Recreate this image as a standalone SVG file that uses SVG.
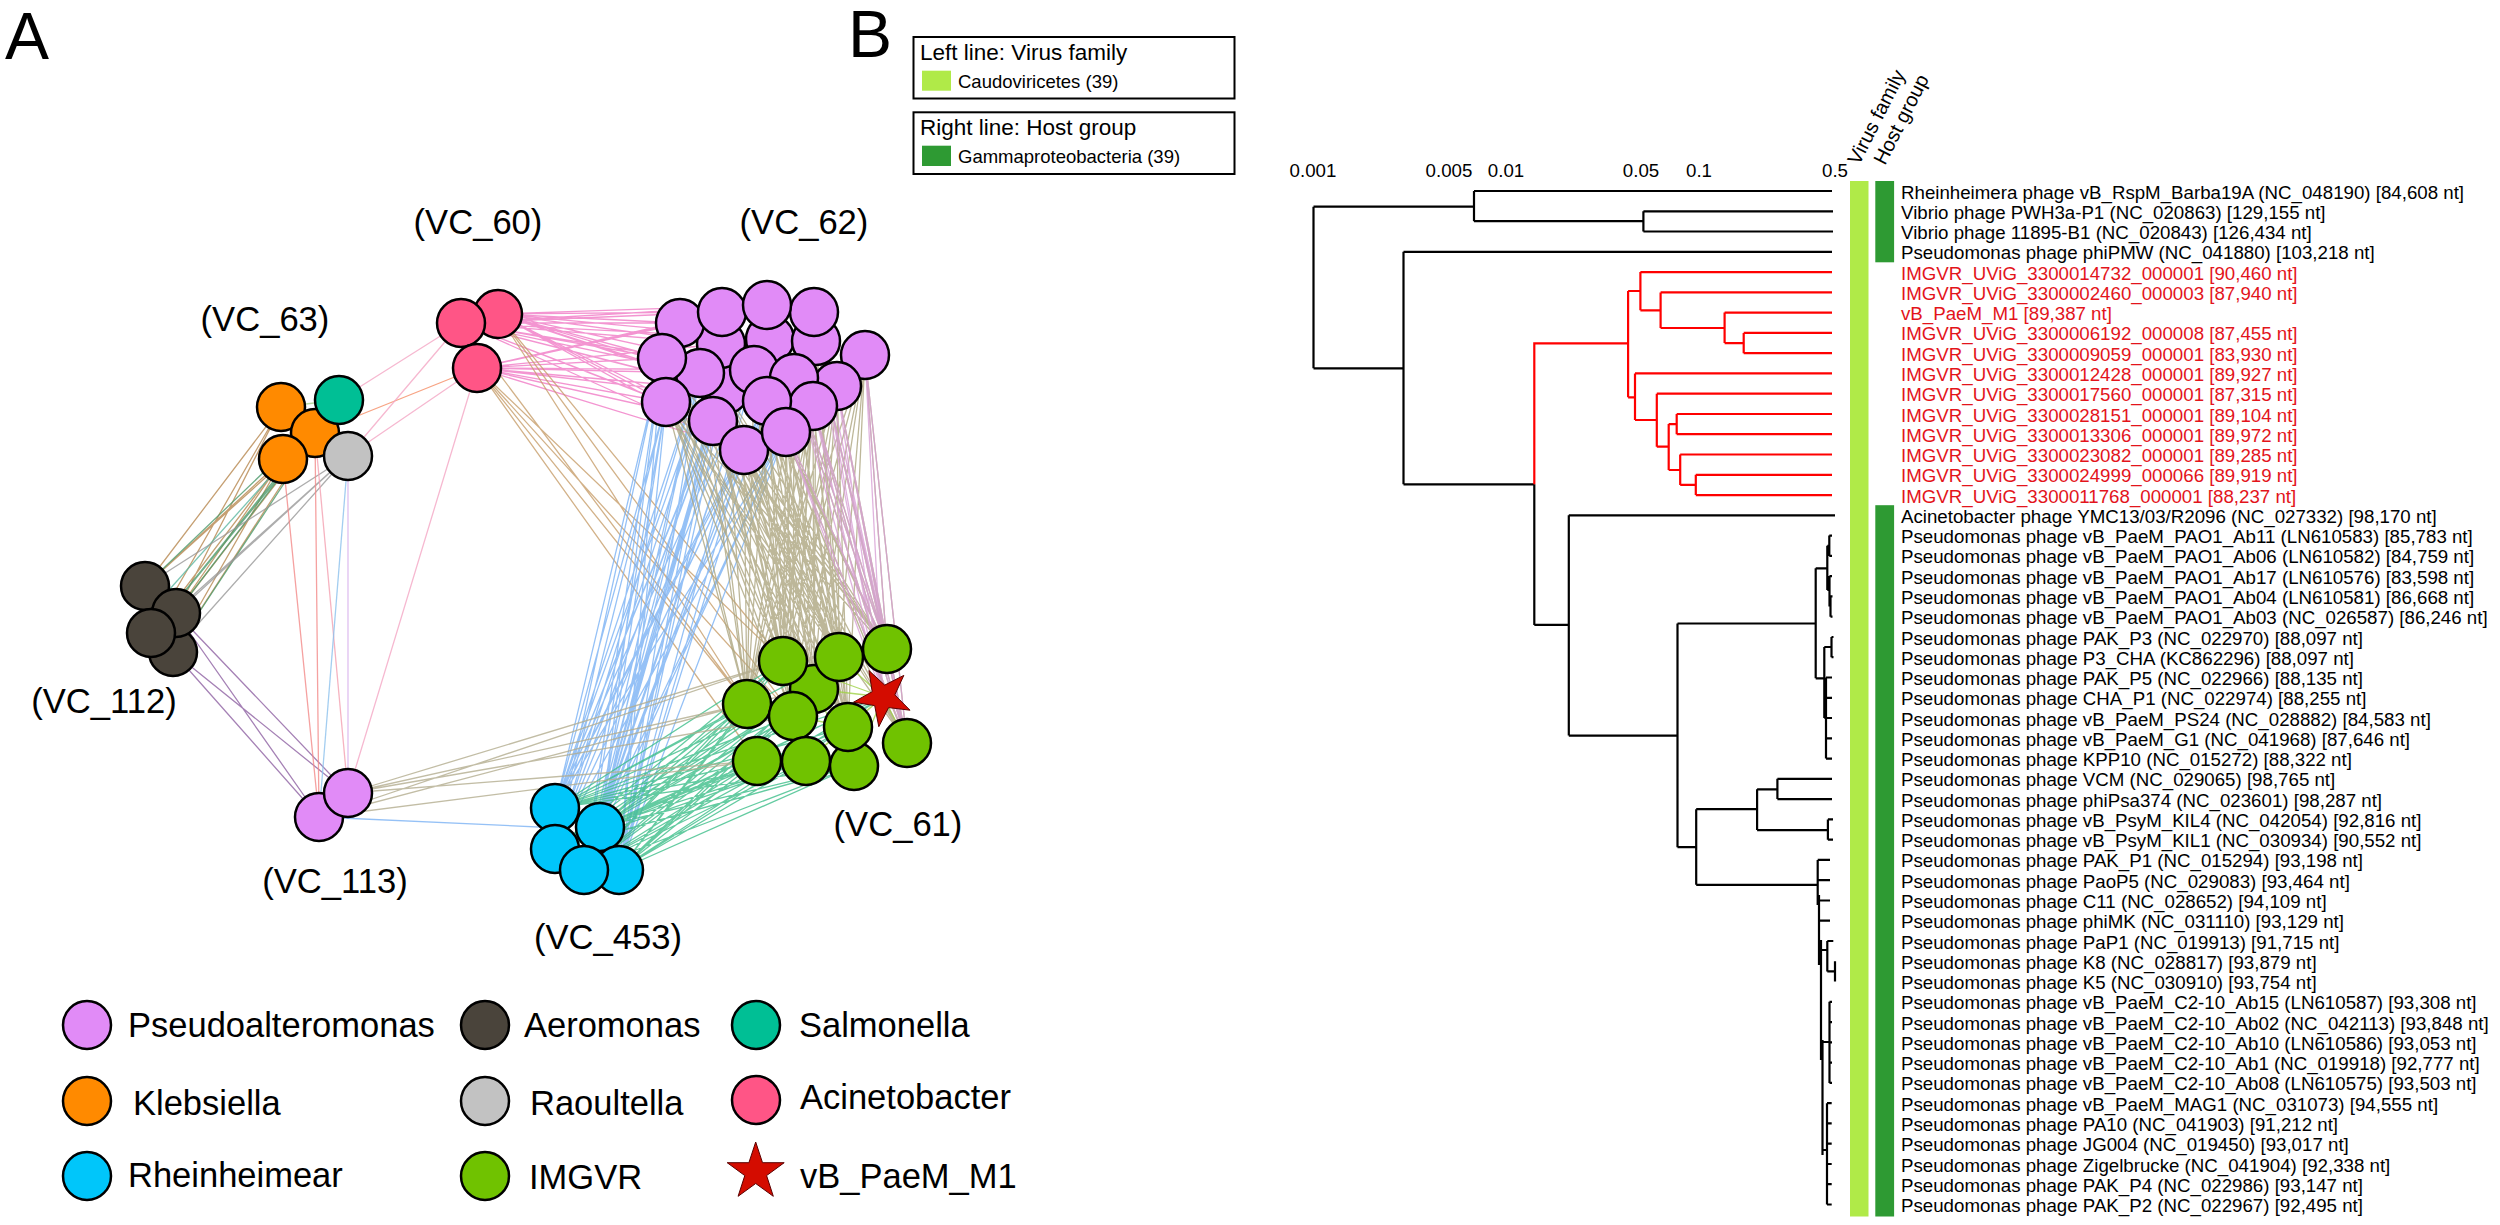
<svg xmlns="http://www.w3.org/2000/svg" width="2500" height="1225" viewBox="0 0 2500 1225">
<style>
text{font-family:"Liberation Sans",Arial,Helvetica,sans-serif;fill:#000}
.big{font-size:66px}
.vc{font-size:34.6px;text-anchor:middle}
.lg{font-size:34.5px}
.tl{font-size:18.7px}
.red{fill:#E3141B}
.ax{font-size:18.7px;text-anchor:middle}
.bx{fill:#fff;stroke:#000;stroke-width:2}
.n{stroke:#000;stroke-width:2.5}
.pv{fill:#E18BF7}.ar{fill:#4A443B}.sa{fill:#00BF95}.kl{fill:#FF8A00}.ra{fill:#C2C2C2}.ac{fill:#FF5586}.rh{fill:#00C6FA}.im{fill:#70C200}
.st{fill:#D40C00;stroke:#5A0000;stroke-width:1}
.e{fill:none;stroke-width:1.3;stroke-opacity:0.8}
.tb{fill:none;stroke:#000;stroke-width:2.2}
.tr{fill:none;stroke:#FF0000;stroke-width:2.2}
</style>

<!-- Panel labels -->
<text class="big" x="5" y="59">A</text>
<text class="big" x="848" y="57">B</text>

<!-- ===== Panel A: network connectors ===== -->
<g id="connectors">
<!-- VC_60 - VC_62 pink -->
<path class="e" stroke="#F07BC6" d="M461 323L680 323M461 323L722 312M461 323L767 305M461 323L721 344M461 323L770 339M461 323L662 358M461 323L700 373M461 323L725 390M461 323L754 370M461 323L666 402M461 323L713 421M461 323L767 401M461 323L744 450M498 314L680 323M498 314L722 312M498 314L767 305M498 314L721 344M498 314L770 339M498 314L662 358M498 314L700 373M498 314L725 390M498 314L754 370M498 314L666 402M498 314L713 421M498 314L767 401M498 314L744 450M477 368L680 323M477 368L722 312M477 368L767 305M477 368L721 344M477 368L770 339M477 368L662 358M477 368L700 373M477 368L725 390M477 368L754 370M477 368L666 402M477 368L713 421M477 368L767 401M477 368L744 450"/>
<!-- VC_60 - VC_61 tan -->
<path class="e" stroke="#C79D6A" d="M477 368L747 704M477 368L783 661M477 368L757 761M498 314L747 704M498 314L783 661M498 314L793 716M461 323L747 704M477 368L793 716"/>
<!-- VC_62 - VC_453 blue -->
<path class="e" stroke="#7AB2F4" d="M666 402L555 808M666 402L600 827M666 402L555 849M666 402L619 870M666 402L584 870M713 421L555 808M713 421L600 827M713 421L555 849M713 421L619 870M713 421L584 870M744 450L555 808M744 450L600 827M744 450L555 849M744 450L619 870M744 450L584 870M662 358L555 808M662 358L600 827M662 358L555 849M662 358L619 870M662 358L584 870M700 373L555 808M700 373L600 827M700 373L555 849M700 373L619 870M700 373L584 870M786 432L555 808M786 432L600 827M786 432L555 849M786 432L619 870M786 432L584 870M767 401L555 808M767 401L600 827M767 401L555 849M767 401L619 870M767 401L584 870M725 390L555 808M725 390L600 827M725 390L555 849M725 390L619 870M725 390L584 870M754 370L555 808M754 370L600 827M754 370L555 849M754 370L619 870M754 370L584 870M721 344L555 808M721 344L600 827M721 344L555 849M721 344L619 870M721 344L584 870"/>
<!-- VC_62 - VC_61 khaki -->
<path class="e" stroke="#ADA57F" d="M666 402L783 661M666 402L839 657M666 402L887 649M666 402L814 689M666 402L747 704M666 402L793 716M666 402L848 727M666 402L907 743M713 421L783 661M713 421L839 657M713 421L887 649M713 421L814 689M713 421L747 704M713 421L793 716M713 421L848 727M713 421L907 743M744 450L783 661M744 450L839 657M744 450L887 649M744 450L814 689M744 450L747 704M744 450L793 716M744 450L848 727M744 450L907 743M786 432L783 661M786 432L839 657M786 432L887 649M786 432L814 689M786 432L747 704M786 432L793 716M786 432L848 727M786 432L907 743M813 406L783 661M813 406L839 657M813 406L887 649M813 406L814 689M813 406L747 704M813 406L793 716M813 406L848 727M813 406L907 743M837 386L783 661M837 386L839 657M837 386L887 649M837 386L814 689M837 386L747 704M837 386L793 716M837 386L848 727M837 386L907 743M865 355L783 661M865 355L839 657M865 355L887 649M865 355L814 689M865 355L747 704M865 355L793 716M865 355L848 727M865 355L907 743M767 401L783 661M767 401L839 657M767 401L887 649M767 401L814 689M767 401L747 704M767 401L793 716M767 401L848 727M767 401L907 743M794 378L783 661M794 378L839 657M794 378L887 649M794 378L814 689M794 378L747 704M794 378L793 716M794 378L848 727M794 378L907 743M700 373L783 661M700 373L839 657M700 373L887 649M700 373L814 689M700 373L747 704M700 373L793 716M700 373L848 727M700 373L907 743M662 358L783 661M662 358L839 657M662 358L887 649M662 358L814 689M662 358L747 704M662 358L793 716M662 358L848 727M662 358L907 743M754 370L783 661M754 370L839 657M754 370L887 649M754 370L814 689M754 370L747 704M754 370L793 716M754 370L848 727M754 370L907 743M816 341L783 661M816 341L839 657M816 341L887 649M816 341L814 689M816 341L747 704M816 341L793 716M816 341L848 727M816 341L907 743M725 390L783 661M725 390L839 657M725 390L887 649M725 390L814 689M725 390L747 704M725 390L793 716M725 390L848 727M725 390L907 743"/>
<!-- VC_62 - VC_61 violet -->
<path class="e" stroke="#D8A0D6" d="M865 355L883 697M865 355L887 649M865 355L907 743M837 386L883 697M837 386L887 649M837 386L907 743M813 406L883 697M813 406L887 649M813 406L907 743M794 378L883 697M794 378L887 649M794 378L907 743M816 341L883 697M816 341L887 649M816 341L907 743M786 432L883 697M786 432L887 649M786 432L907 743M814 312L883 697M814 312L887 649M814 312L907 743"/>
<!-- VC_453 - VC_61 green -->
<path class="e" stroke="#3DBE8A" d="M555 808L783 661M555 808L839 657M555 808L814 689M555 808L747 704M555 808L793 716M555 808L848 727M555 808L757 761M555 808L806 761M555 808L854 766M555 808L883 697M600 827L783 661M600 827L839 657M600 827L814 689M600 827L747 704M600 827L793 716M600 827L848 727M600 827L757 761M600 827L806 761M600 827L854 766M600 827L883 697M555 849L783 661M555 849L839 657M555 849L814 689M555 849L747 704M555 849L793 716M555 849L848 727M555 849L757 761M555 849L806 761M555 849L854 766M555 849L883 697M619 870L783 661M619 870L839 657M619 870L814 689M619 870L747 704M619 870L793 716M619 870L848 727M619 870L757 761M619 870L806 761M619 870L854 766M619 870L883 697M584 870L783 661M584 870L839 657M584 870L814 689M584 870L747 704M584 870L793 716M584 870L848 727M584 870L757 761M584 870L806 761M584 870L854 766M584 870L883 697"/>
<!-- VC_113 - VC_61 khaki -->
<path class="e" stroke="#B3AC8E" d="M348 793L747 704M348 793L783 661M348 793L757 761M348 793L793 716M348 793L814 689M319 817L747 704M319 817L783 661M319 817L757 761"/>
<!-- VC_113 - VC_453 blue -->
<path class="e" stroke="#7AB2F4" d="M319 817L560 828"/>
<!-- VC_112 - VC_113 purple -->
<path class="e" stroke="#8E62A2" d="M176 613L348 793M173 652L348 793M173 652L319 817M176 613L319 817"/>
<!-- VC_63 - VC_112 -->
<path class="e" stroke="#B6874F" stroke-width="1.6" d="M281 407L145 586M281 407L176 613M281 407L151 633M315 433L145 586M315 433L176 613M315 433L173 652M283 459L145 586M283 459L176 613M283 459L151 633M283 459L173 652"/>
<path class="e" stroke="#4C9A6C" stroke-width="1.6" d="M339 400L145 586M339 400L176 613M339 400L173 652M339 400L151 633M315 433L151 633"/>
<path class="e" stroke="#5DB6A0" d="M339 400L160 600"/>
<path class="e" stroke="#999999" stroke-width="1.6" d="M348 456L145 586M348 456L176 613M348 456L173 652M348 456L151 633"/>
<!-- VC_63 - VC_113 -->
<path class="e" stroke="#F28A88" d="M283 459L319 817M315 433L319 817"/>
<path class="e" stroke="#F4A0B0" d="M315 433L348 793"/>
<path class="e" stroke="#8CC0EC" d="M348 456L319 817"/>
<path class="e" stroke="#D8B0EC" d="M348 456L348 793"/>
<!-- VC_63 - VC_60, VC_60 - VC_113 -->
<path class="e" stroke="#F58C64" d="M315 433L477 368"/>
<path class="e" stroke="#F4A6C4" d="M348 456L461 323M339 400L461 323M348 456L477 368M477 368L348 793"/>
<!-- internal edges -->
<path class="e" stroke="#9FD246" stroke-width="2.5" d="M883 697L814 689M883 697L848 727M883 697L793 716M883 697L907 743M814 689L848 727M793 716L848 727M848 727L806 761M793 716L806 761M814 689L854 766M883 697L806 761M883 697L854 766M783 661L883 697M839 657L883 697"/>
<path class="e" stroke="#A8D08C" stroke-width="3" d="M281 407L339 400"/>
<path class="e" stroke="#F9C08A" stroke-width="3" d="M315 433L283 459M315 433L348 456"/>
</g>

<!-- ===== Panel A: nodes ===== -->
<g id="VC_60">
<circle id="vc60_2" class="n ac" cx="498" cy="314" r="24"/>
<circle id="vc60_1" class="n ac" cx="461" cy="323" r="24"/>
<circle id="vc60_3" class="n ac" cx="477" cy="368" r="24"/>
</g>
<g id="VC_62">
<circle id="vc62_20" class="n pv" cx="725" cy="390" r="24"/>
<circle id="vc62_7" class="n pv" cx="721" cy="344" r="24"/>
<circle id="vc62_5" class="n pv" cx="770" cy="339" r="24"/>
<circle id="vc62_6" class="n pv" cx="816" cy="341" r="24"/>
<circle id="vc62_1" class="n pv" cx="680" cy="323" r="24"/>
<circle id="vc62_2" class="n pv" cx="722" cy="312" r="24"/>
<circle id="vc62_4" class="n pv" cx="814" cy="312" r="24"/>
<circle id="vc62_3" class="n pv" cx="767" cy="305" r="24"/>
<circle id="vc62_8" class="n pv" cx="865" cy="355" r="24"/>
<circle id="vc62_13" class="n pv" cx="837" cy="386" r="24"/>
<circle id="vc62_11" class="n pv" cx="754" cy="370" r="24"/>
<circle id="vc62_10" class="n pv" cx="700" cy="373" r="24"/>
<circle id="vc62_9" class="n pv" cx="662" cy="358" r="24"/>
<circle id="vc62_12" class="n pv" cx="794" cy="378" r="24"/>
<circle id="vc62_16" class="n pv" cx="813" cy="406" r="24"/>
<circle id="vc62_15" class="n pv" cx="767" cy="401" r="24"/>
<circle id="vc62_14" class="n pv" cx="666" cy="402" r="24"/>
<circle id="vc62_17" class="n pv" cx="713" cy="421" r="24"/>
<circle id="vc62_19" class="n pv" cx="744" cy="450" r="24"/>
<circle id="vc62_18" class="n pv" cx="786" cy="432" r="24"/>
</g>
<g id="VC_63">
<circle id="vc63_1" class="n kl" cx="281" cy="407" r="24"/>
<circle id="vc63_2" class="n kl" cx="315" cy="433" r="24"/>
<circle id="vc63_3" class="n sa" cx="339" cy="400" r="24"/>
<circle id="vc63_4" class="n kl" cx="283" cy="459" r="24"/>
<circle id="vc63_5" class="n ra" cx="348" cy="456" r="24"/>
</g>
<g id="VC_112">
<circle id="vc112_1" class="n ar" cx="145" cy="586" r="24"/>
<circle id="vc112_2" class="n ar" cx="173" cy="652" r="24"/>
<circle id="vc112_3" class="n ar" cx="176" cy="613" r="24"/>
<circle id="vc112_4" class="n ar" cx="151" cy="633" r="24"/>
</g>
<g id="VC_113">
<circle id="vc113_1" class="n pv" cx="319" cy="817" r="24"/>
<circle id="vc113_2" class="n pv" cx="348" cy="793" r="24"/>
</g>
<g id="VC_453">
<circle id="vc453_1" class="n rh" cx="555" cy="808" r="24"/>
<circle id="vc453_2" class="n rh" cx="600" cy="827" r="24"/>
<circle id="vc453_3" class="n rh" cx="555" cy="849" r="24"/>
<circle id="vc453_4" class="n rh" cx="619" cy="870" r="24"/>
<circle id="vc453_5" class="n rh" cx="584" cy="870" r="24"/>
</g>
<g id="VC_61">
<circle id="vc61_11" class="n im" cx="854" cy="766" r="24"/>
<circle id="vc61_4" class="n im" cx="814" cy="689" r="24"/>
<polygon id="vB_PaeM_M1_node" class="st" points="903.8,675.4 894.8,694.9 910,710.2 888.6,707.6 878.8,726.7 874.7,705.6 853.5,702.2 872.2,691.7 868.9,670.5 884.7,685.1"/>
<circle id="vc61_5" class="n im" cx="747" cy="704" r="24"/>
<circle id="vc61_1" class="n im" cx="783" cy="661" r="24"/>
<circle id="vc61_2" class="n im" cx="839" cy="657" r="24"/>
<circle id="vc61_3" class="n im" cx="887" cy="649" r="24"/>
<circle id="vc61_6" class="n im" cx="793" cy="716" r="24"/>
<circle id="vc61_7" class="n im" cx="848" cy="727" r="24"/>
<circle id="vc61_8" class="n im" cx="907" cy="743" r="24"/>
<circle id="vc61_9" class="n im" cx="757" cy="761" r="24"/>
<circle id="vc61_10" class="n im" cx="806" cy="761" r="24"/>
</g>

<!-- cluster labels -->
<g id="cluster-labels">
<text class="vc" x="478" y="234">(VC_60)</text>
<text class="vc" x="804" y="234">(VC_62)</text>
<text class="vc" x="265" y="331">(VC_63)</text>
<text class="vc" x="104" y="713">(VC_112)</text>
<text class="vc" x="335" y="893">(VC_113)</text>
<text class="vc" x="608" y="949">(VC_453)</text>
<text class="vc" x="898" y="836">(VC_61)</text>
</g>

<!-- Panel A legend -->
<g id="legend-A">
<circle class="n pv" cx="87" cy="1025" r="24"/><text class="lg" x="128" y="1037">Pseudoalteromonas</text>
<circle class="n kl" cx="87" cy="1101" r="24"/><text class="lg" x="133" y="1115">Klebsiella</text>
<circle class="n rh" cx="87" cy="1176" r="24"/><text class="lg" x="128" y="1187">Rheinheimear</text>
<circle class="n ar" cx="485" cy="1025" r="24"/><text class="lg" x="524" y="1037">Aeromonas</text>
<circle class="n ra" cx="485" cy="1101" r="24"/><text class="lg" x="530" y="1115">Raoultella</text>
<circle class="n im" cx="485" cy="1176" r="24"/><text class="lg" x="529" y="1189">IMGVR</text>
<circle class="n sa" cx="756" cy="1025" r="24"/><text class="lg" x="799" y="1037">Salmonella</text>
<circle class="n ac" cx="756" cy="1100" r="24"/><text class="lg" x="800" y="1109">Acinetobacter</text>
<polygon class="st" points="755.7,1142 762.5,1162.7 784.2,1162.7 766.6,1175.6 773.3,1196.3 755.7,1183.5 738.1,1196.3 744.8,1175.6 727.2,1162.7 748.9,1162.7"/>
<text class="lg" x="800" y="1188">vB_PaeM_M1</text>
</g>

<!-- ===== Panel B ===== -->
<g id="legend-B">
<rect class="bx" x="913.5" y="37" width="321" height="61.5"/>
<text x="920" y="60" style="font-size:22.5px">Left line: Virus family</text>
<rect x="922" y="70.7" width="29" height="20" fill="#B0EA48"/>
<text x="958" y="87.5" style="font-size:18.5px">Caudoviricetes (39)</text>
<rect class="bx" x="913.5" y="112.3" width="321" height="61.7"/>
<text x="920" y="135" style="font-size:22.5px">Right line: Host group</text>
<rect x="922" y="145.7" width="29" height="20.3" fill="#2E9A33"/>
<text x="958" y="162.7" style="font-size:18.5px">Gammaproteobacteria (39)</text>
</g>

<g id="scale-axis">
<text class="ax" x="1313" y="177">0.001</text>
<text class="ax" x="1449" y="177">0.005</text>
<text class="ax" x="1506" y="177">0.01</text>
<text class="ax" x="1641" y="177">0.05</text>
<text class="ax" x="1699" y="177">0.1</text>
<text class="ax" x="1835" y="177">0.5</text>
</g>

<g id="tree">
<path class="tb" d="M1313.5 206.7V368.3M1313.5 206.7H1474M1474 191V221.2M1474 191H1832M1474 221.2H1643.4M1643.4 211.3V231.5M1643.4 211.3H1833M1643.4 231.5H1833M1313.5 368.3H1403.5M1403.5 251.8V484.3M1403.5 251.8H1832M1403.5 484.3H1534.3M1534.3 484.3V624.9M1534.3 624.9H1568.8M1568.8 515.3V735.6M1568.8 515.3H1835M1568.8 735.6H1677.5M1677.5 623.5V847.2M1677.5 623.5H1815.7M1815.7 568.3V678.3M1815.7 568.3H1827.3M1827.3 545.8V590M1827.3 545.8H1829.3M1829.3 535.6V555.9M1829.3 535.6H1832M1829.3 555.9H1832M1827.3 590H1829.5M1829.5 576.1V606.5M1829.5 576.1H1832M1829.5 606.5H1830.5M1830.5 596.4V616.7M1830.5 596.4H1832.5M1830.5 616.7H1832.5M1815.7 678.3H1824.3M1824.3 647V718M1824.3 647H1831.5M1831.5 637V657.2M1831.5 637H1833.5M1831.5 657.2H1833.5M1824.3 718H1826M1826 677.5V758.6M1826 677.5H1832M1826 697.8H1832M1826 718H1832M1826 738.3H1832M1826 758.6H1832M1677.5 847.2H1696.2M1696.2 809.2V884.8M1696.2 809.2H1757.1M1757.1 789.3V830.1M1757.1 789.3H1777.4M1777.4 778.8V799.1M1777.4 778.8H1832M1777.4 799.1H1832M1757.1 830.1H1827.9M1827.9 819.4V839.7M1827.9 819.4H1833M1827.9 839.7H1833M1696.2 884.8H1817.7M1817.7 859.9V905M1817.7 859.9H1830M1817.7 880.2H1830M1819 895V965M1819 900.5H1830M1819 920.7H1830M1819 950H1827.3M1827.3 941V971.4M1827.3 941H1833.3M1827.3 971.4H1835M1835 961.3V981.5M1821 940V1060M1821 1042H1829.5M1829.5 1001.8V1082.9M1829.5 1001.8H1832M1829.5 1022.1H1832M1829.5 1042.4H1832M1829.5 1062.6H1832M1829.5 1082.9H1832M1822.5 1040V1155M1822.5 1150H1827M1827 1103.2V1204.5M1827 1103.2H1831.7M1827 1123.4H1831.7M1827 1143.7H1831.7M1827 1164H1831.7M1827 1184.2H1831.7M1827 1204.5H1831.7"/>
<path class="tr" d="M1534.3 484.3V343.3H1628.1M1628.1 291V397.3M1628.1 291H1640.4M1640.4 272.1V310.3M1640.4 272.1H1832M1640.4 310.3H1660.6M1660.6 292.4V328M1660.6 292.4H1832M1660.6 328H1724.6M1724.6 312.6V343.1M1724.6 312.6H1832M1724.6 343.1H1743.7M1743.7 332.9V353.2M1743.7 332.9H1832M1743.7 353.2H1832M1628.1 397.3H1635M1635 373.4V420M1635 373.4H1832M1635 420H1656.8M1656.8 393.7V446.7M1656.8 393.7H1832M1656.8 446.7H1668.7M1668.7 424.1V470M1668.7 424.1H1676.7M1676.7 414V434.2M1676.7 414H1832M1676.7 434.2H1832M1668.7 470H1680.2M1680.2 454.5V484.9M1680.2 454.5H1832M1680.2 484.9H1695.8M1695.8 474.8V495.1M1695.8 474.8H1832M1695.8 495.1H1832"/>
</g>

<g id="annotation-bars">
<rect x="1850" y="181" width="18.5" height="1035.5" fill="#B0EA48"/>
<rect x="1875.3" y="181" width="18.8" height="81.3" fill="#2E9A33"/>
<rect x="1875.3" y="505.2" width="18.8" height="711.3" fill="#2E9A33"/>
<text transform="translate(1859 166) rotate(-63)" style="font-size:20px">Virus family</text>
<text transform="translate(1885 166) rotate(-63)" style="font-size:20px">Host group</text>
</g>

<g id="tip-labels">
<text class="tl" x="1901" y="198.5">Rheinheimera phage vB_RspM_Barba19A (NC_048190) [84,608 nt]</text>
<text class="tl" x="1901" y="218.8">Vibrio phage PWH3a-P1 (NC_020863) [129,155 nt]</text>
<text class="tl" x="1901" y="239">Vibrio phage 11895-B1 (NC_020843) [126,434 nt]</text>
<text class="tl" x="1901" y="259.3">Pseudomonas phage phiPMW (NC_041880) [103,218 nt]</text>
<text class="tl red" x="1901" y="279.6">IMGVR_UViG_3300014732_000001 [90,460 nt]</text>
<text class="tl red" x="1901" y="299.9">IMGVR_UViG_3300002460_000003 [87,940 nt]</text>
<text class="tl red" x="1901" y="320.1">vB_PaeM_M1 [89,387 nt]</text>
<text class="tl red" x="1901" y="340.4">IMGVR_UViG_3300006192_000008 [87,455 nt]</text>
<text class="tl red" x="1901" y="360.7">IMGVR_UViG_3300009059_000001 [83,930 nt]</text>
<text class="tl red" x="1901" y="380.9">IMGVR_UViG_3300012428_000001 [89,927 nt]</text>
<text class="tl red" x="1901" y="401.2">IMGVR_UViG_3300017560_000001 [87,315 nt]</text>
<text class="tl red" x="1901" y="421.5">IMGVR_UViG_3300028151_000001 [89,104 nt]</text>
<text class="tl red" x="1901" y="441.7">IMGVR_UViG_3300013306_000001 [89,972 nt]</text>
<text class="tl red" x="1901" y="462">IMGVR_UViG_3300023082_000001 [89,285 nt]</text>
<text class="tl red" x="1901" y="482.3">IMGVR_UViG_3300024999_000066 [89,919 nt]</text>
<text class="tl red" x="1901" y="502.6">IMGVR_UViG_3300011768_000001 [88,237 nt]</text>
<text class="tl" x="1901" y="522.8">Acinetobacter phage YMC13/03/R2096 (NC_027332) [98,170 nt]</text>
<text class="tl" x="1901" y="543.1">Pseudomonas phage vB_PaeM_PAO1_Ab11 (LN610583) [85,783 nt]</text>
<text class="tl" x="1901" y="563.4">Pseudomonas phage vB_PaeM_PAO1_Ab06 (LN610582) [84,759 nt]</text>
<text class="tl" x="1901" y="583.6">Pseudomonas phage vB_PaeM_PAO1_Ab17 (LN610576) [83,598 nt]</text>
<text class="tl" x="1901" y="603.9">Pseudomonas phage vB_PaeM_PAO1_Ab04 (LN610581) [86,668 nt]</text>
<text class="tl" x="1901" y="624.2">Pseudomonas phage vB_PaeM_PAO1_Ab03 (NC_026587) [86,246 nt]</text>
<text class="tl" x="1901" y="644.5">Pseudomonas phage PAK_P3 (NC_022970) [88,097 nt]</text>
<text class="tl" x="1901" y="664.7">Pseudomonas phage P3_CHA (KC862296) [88,097 nt]</text>
<text class="tl" x="1901" y="685">Pseudomonas phage PAK_P5 (NC_022966) [88,135 nt]</text>
<text class="tl" x="1901" y="705.3">Pseudomonas phage CHA_P1 (NC_022974) [88,255 nt]</text>
<text class="tl" x="1901" y="725.5">Pseudomonas phage vB_PaeM_PS24 (NC_028882) [84,583 nt]</text>
<text class="tl" x="1901" y="745.8">Pseudomonas phage vB_PaeM_G1 (NC_041968) [87,646 nt]</text>
<text class="tl" x="1901" y="766.1">Pseudomonas phage KPP10 (NC_015272) [88,322 nt]</text>
<text class="tl" x="1901" y="786.3">Pseudomonas phage VCM (NC_029065) [98,765 nt]</text>
<text class="tl" x="1901" y="806.6">Pseudomonas phage phiPsa374 (NC_023601) [98,287 nt]</text>
<text class="tl" x="1901" y="826.9">Pseudomonas phage vB_PsyM_KIL4 (NC_042054) [92,816 nt]</text>
<text class="tl" x="1901" y="847.2">Pseudomonas phage vB_PsyM_KIL1 (NC_030934) [90,552 nt]</text>
<text class="tl" x="1901" y="867.4">Pseudomonas phage PAK_P1 (NC_015294) [93,198 nt]</text>
<text class="tl" x="1901" y="887.7">Pseudomonas phage PaoP5 (NC_029083) [93,464 nt]</text>
<text class="tl" x="1901" y="908">Pseudomonas phage C11 (NC_028652) [94,109 nt]</text>
<text class="tl" x="1901" y="928.2">Pseudomonas phage phiMK (NC_031110) [93,129 nt]</text>
<text class="tl" x="1901" y="948.5">Pseudomonas phage PaP1 (NC_019913) [91,715 nt]</text>
<text class="tl" x="1901" y="968.8">Pseudomonas phage K8 (NC_028817) [93,879 nt]</text>
<text class="tl" x="1901" y="989">Pseudomonas phage K5 (NC_030910) [93,754 nt]</text>
<text class="tl" x="1901" y="1009.3">Pseudomonas phage vB_PaeM_C2-10_Ab15 (LN610587) [93,308 nt]</text>
<text class="tl" x="1901" y="1029.6">Pseudomonas phage vB_PaeM_C2-10_Ab02 (NC_042113) [93,848 nt]</text>
<text class="tl" x="1901" y="1049.9">Pseudomonas phage vB_PaeM_C2-10_Ab10 (LN610586) [93,053 nt]</text>
<text class="tl" x="1901" y="1070.1">Pseudomonas phage vB_PaeM_C2-10_Ab1 (NC_019918) [92,777 nt]</text>
<text class="tl" x="1901" y="1090.4">Pseudomonas phage vB_PaeM_C2-10_Ab08 (LN610575) [93,503 nt]</text>
<text class="tl" x="1901" y="1110.7">Pseudomonas phage vB_PaeM_MAG1 (NC_031073) [94,555 nt]</text>
<text class="tl" x="1901" y="1130.9">Pseudomonas phage PA10 (NC_041903) [91,212 nt]</text>
<text class="tl" x="1901" y="1151.2">Pseudomonas phage JG004 (NC_019450) [93,017 nt]</text>
<text class="tl" x="1901" y="1171.5">Pseudomonas phage Zigelbrucke (NC_041904) [92,338 nt]</text>
<text class="tl" x="1901" y="1191.7">Pseudomonas phage PAK_P4 (NC_022986) [93,147 nt]</text>
<text class="tl" x="1901" y="1212">Pseudomonas phage PAK_P2 (NC_022967) [92,495 nt]</text>
</g>
</svg>
